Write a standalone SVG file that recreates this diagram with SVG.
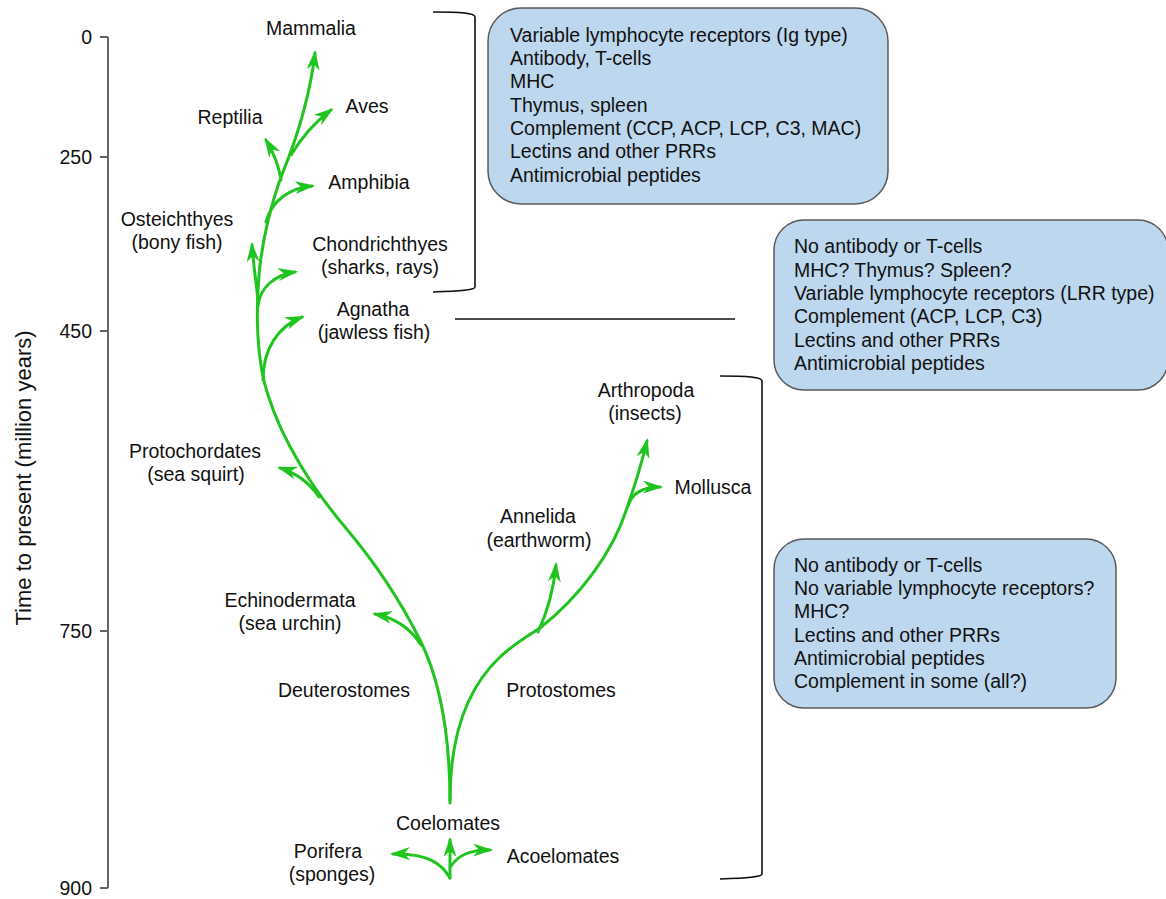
<svg xmlns="http://www.w3.org/2000/svg" width="1166" height="899" viewBox="0 0 1166 899">
<defs>
<style>
text{font-family:"Liberation Sans",Arial,sans-serif;font-size:19.5px;fill:#111;}
.c{text-anchor:middle;}
.e{text-anchor:end;}
.tree{fill:none;stroke:#1fc41f;stroke-width:3;stroke-linecap:round;marker-end:url(#ah);}
.br{fill:none;stroke:#111;stroke-width:1.6;}
.box{fill:#bdd7ee;stroke:#5a5a5a;stroke-width:1.5;}
.ax{fill:none;stroke:#666;stroke-width:2;}
</style>
<marker id="ah" viewBox="0 0 20 13" refX="17" refY="6.5" markerWidth="20" markerHeight="13" markerUnits="userSpaceOnUse" orient="auto">
<path d="M0,0 L20,6.5 L0,13 L6,6.5 Z" fill="#1fc41f"/>
</marker>
</defs>
<rect width="1166" height="899" fill="#fff"/>

<g id="axis">
<path class="ax" d="M108,37 V888 M100,37 H108 M100,157 H108 M100,331 H108 M100,631 H108 M100,888 H108"/>
<text class="e" x="92" y="44">0</text>
<text class="e" x="92" y="164">250</text>
<text class="e" x="92" y="338">450</text>
<text class="e" x="92" y="638">750</text>
<text class="e" x="92" y="895">900</text>
<text class="c" transform="translate(31,478) rotate(-90)" style="font-size:22px">Time to present (million years)</text>
</g>

<g id="connectors">
<path class="tree" d="M450,803 C450,735 440,680 420,640 C403,606 378,566 345,527 C312,488 282,440 268,395 C256,360 256,310 259,275 C262,240 272,200 283,172 C298,135 310,95 315,53"/>
<path class="tree" d="M450,800 C450,740 465,690 500,657 C515,643 528,636 540,628 C578,598 612,555 627,508 C635,485 642,462 647,441"/>
<path class="tree" d="M421,645 C411,629 395,618 375,614"/>
<path class="tree" d="M319,497 C309,482 296,473 280,468"/>
<path class="tree" d="M263,380 C263,348 279,326 302,317"/>
<path class="tree" d="M258,306 C260,287 275,275 295,272"/>
<path class="tree" d="M258,300 C256,280 253,262 252,245"/>
<path class="tree" d="M266,222 C272,200 290,188 312,186"/>
<path class="tree" d="M281,180 C279,166 272,150 266,140"/>
<path class="tree" d="M291,155 C300,140 315,122 331,110"/>
<path class="tree" d="M538,632 C546,615 553,595 556,565"/>
<path class="tree" d="M628,506 C632,493 642,487 660,487"/>
<path class="tree" d="M450,878 C442,864 428,853 393,854"/>
<path class="tree" d="M450,878 L450,840"/>
<path class="tree" d="M451,866 C458,856 468,850 490,850"/>
<path class="br" d="M433,12 C462,12 475,13 475,17 L475,287 C475,290 462,291 433,292"/>
<path class="br" d="M720,376 C748,376 762,377 762,381 L762,874 C762,877 748,878 720,879"/>
<path class="br" d="M455,319 H735"/>
</g>

<g id="mammalia"><text class="c" x="311" y="35">Mammalia</text></g>
<g id="aves"><text class="c" x="367" y="113">Aves</text></g>
<g id="reptilia"><text class="c" x="230" y="124">Reptilia</text></g>
<g id="amphibia"><text class="c" x="369" y="189">Amphibia</text></g>
<g id="osteichthyes"><text class="c" x="177" y="226">Osteichthyes</text><text class="c" x="177" y="249">(bony fish)</text></g>
<g id="chondrichthyes"><text class="c" x="380" y="251">Chondrichthyes</text><text class="c" x="380" y="274">(sharks, rays)</text></g>
<g id="agnatha"><text class="c" x="373" y="316">Agnatha</text><text class="c" x="374" y="339">(jawless fish)</text></g>
<g id="protochordates"><text class="c" x="195" y="458">Protochordates</text><text class="c" x="196" y="481">(sea squirt)</text></g>
<g id="echinodermata"><text class="c" x="290" y="607">Echinodermata</text><text class="c" x="290" y="630">(sea urchin)</text></g>
<g id="deuterostomes"><text class="c" x="344" y="697">Deuterostomes</text></g>
<g id="protostomes"><text class="c" x="561" y="697">Protostomes</text></g>
<g id="arthropoda"><text class="c" x="646" y="397">Arthropoda</text><text class="c" x="645" y="420">(insects)</text></g>
<g id="mollusca"><text class="c" x="713" y="494">Mollusca</text></g>
<g id="annelida"><text class="c" x="538" y="523">Annelida</text><text class="c" x="539" y="547">(earthworm)</text></g>
<g id="coelomates"><text class="c" x="448" y="830">Coelomates</text></g>
<g id="porifera"><text class="c" x="328" y="858">Porifera</text><text class="c" x="332" y="881">(sponges)</text></g>
<g id="acoelomates"><text class="c" x="563" y="863">Acoelomates</text></g>

<g id="box-vertebrates">
<rect class="box" x="488" y="8" width="400" height="196" rx="33"/>
<text x="510" y="42">Variable lymphocyte receptors (Ig type)</text>
<text x="510" y="65">Antibody, T-cells</text>
<text x="510" y="88">MHC</text>
<text x="510" y="112">Thymus, spleen</text>
<text x="510" y="135">Complement (CCP, ACP, LCP, C3, MAC)</text>
<text x="510" y="158">Lectins and other PRRs</text>
<text x="510" y="182">Antimicrobial peptides</text>
</g>
<g id="box-agnatha">
<rect class="box" x="774" y="220" width="394" height="170" rx="30"/>
<text x="794" y="253">No antibody or T-cells</text>
<text x="794" y="277">MHC? Thymus? Spleen?</text>
<text x="794" y="300">Variable lymphocyte receptors (LRR type)</text>
<text x="794" y="323">Complement (ACP, LCP, C3)</text>
<text x="794" y="347">Lectins and other PRRs</text>
<text x="794" y="370">Antimicrobial peptides</text>
</g>
<g id="box-invertebrates">
<rect class="box" x="774" y="539" width="342" height="169" rx="30"/>
<text x="794" y="572">No antibody or T-cells</text>
<text x="794" y="595">No variable lymphocyte receptors?</text>
<text x="794" y="618">MHC?</text>
<text x="794" y="642">Lectins and other PRRs</text>
<text x="794" y="665">Antimicrobial peptides</text>
<text x="794" y="688">Complement in some (all?)</text>
</g>
</svg>
